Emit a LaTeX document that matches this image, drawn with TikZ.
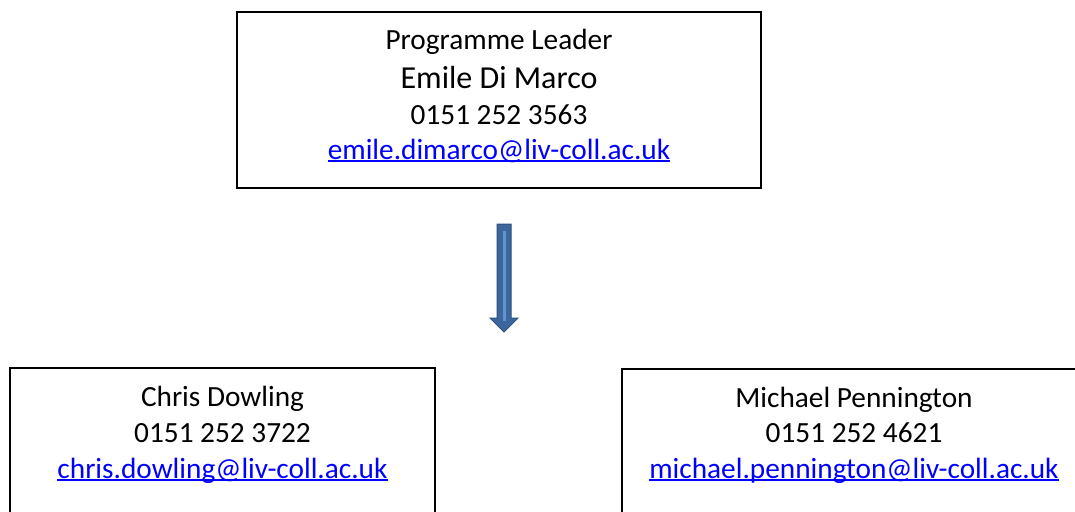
\documentclass[tikz,border=0pt]{standalone}
\usepackage{fontspec}
\setmainfont{Carlito}
\definecolor{linkblue}{HTML}{0000FF}
\definecolor{arrowfill}{HTML}{3D679C}
\definecolor{arrowedge}{HTML}{2E4F7C}
\definecolor{arrowlight}{HTML}{6393CC}
\newcommand\myulink[1]{\setbox0\hbox{#1}\rlap{\rule[-2.8pt]{\wd0}{1.6pt}}\box0}
\tikzset{
  orgbox/.style={draw=black, line width=1.8pt, fill=none, rectangle, inner sep=0pt},
  txt/.style={inner sep=0pt, anchor=base, font=\fontsize{29.3pt}{35pt}\selectfont},
  bigtxt/.style={inner sep=0pt, anchor=base, font=\fontsize{32pt}{38pt}\selectfont},
  linktxt/.style={txt, text=linkblue},
}
\begin{document}
\begin{tikzpicture}[x=1pt,y=1pt]
\useasboundingbox (0,0) rectangle (1075,-511);
\clip (0,0) rectangle (1075,-511);
% boxes
\node[orgbox, minimum width=524pt, minimum height=176pt] (leader) at (499,-100) {};
\node[orgbox, minimum width=425pt, minimum height=170pt] (chris) at (222.5,-453) {};
\node[orgbox, minimum width=464pt, minimum height=170pt] (michael) at (854,-454) {};
% top box text
\node[txt] (l1) at (499,-50) {Programme Leader};
\node[bigtxt] (l2) at (499,-88) {Emile Di Marco};
\node[txt] (l3) at (499,-124) {0151 252 3563};
\node[linktxt] (l4) at (499,-159) {\myulink{emile.dimarco@liv-coll.ac.uk}};
% left box text
\node[txt] (c1) at (222.5,-406) {Chris Dowling};
\node[txt] (c2) at (222.5,-442) {0151 252 3722};
\node[linktxt] (c3) at (222.5,-478) {\myulink{chris.dowling@liv-coll.ac.uk}};
% right box text
\node[txt] (m1) at (854,-407) {Michael Pennington};
\node[txt] (m2) at (854,-442) {0151 252 4621};
\node[linktxt] (m3) at (854,-478) {\myulink{michael.pennington@liv-coll.ac.uk}};
% block arrow
\coordinate (atop) at (504,-224);
\coordinate (atip) at (504,-332);
\draw[fill=arrowfill, draw=arrowedge, line width=1pt]
  ([xshift=-7pt]atop) -- ([xshift=7pt]atop) -- ([xshift=7pt,yshift=14pt]atip)
  -- ([xshift=14pt,yshift=14pt]atip) -- (atip) -- ([xshift=-14pt,yshift=14pt]atip)
  -- ([xshift=-7pt,yshift=14pt]atip) -- cycle;
\draw[arrowlight, line width=3pt] ([yshift=-7pt]atop) -- ([yshift=11pt]atip);
\end{tikzpicture}
\end{document}
